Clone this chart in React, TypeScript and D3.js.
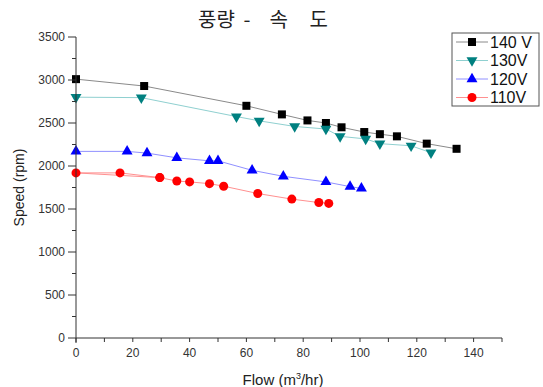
import * as d3 from 'd3'

// series values: [flow m3/hr, speed rpm]
const flow140 = [0, 24, 60, 72.5, 81.5, 88, 93.5, 101.5, 107, 113, 123.5, 134]
const speed140 = [3010, 2930, 2700, 2600, 2530, 2500, 2450, 2395, 2370, 2345, 2260, 2200]

const flow130 = [0, 23, 56.5, 64.5, 77, 88, 93, 102, 107, 118, 125]
const speed130 = [2800, 2795, 2575, 2525, 2460, 2430, 2345, 2315, 2260, 2235, 2155]

const flow120 = [0, 18, 25, 35.5, 47, 50, 62, 73, 88, 96.5, 100.5]
const speed120 = [2170, 2170, 2150, 2095, 2060, 2060, 1950, 1880, 1815, 1760, 1740]

// the 110V line in the source goes back to 0 before continuing
const flow110 = [29.5, 15.5, 0, 29.5, 35.5, 40, 47, 52, 64, 76, 85.5, 89]
const speed110 = [1865, 1920, 1920, 1865, 1825, 1815, 1795, 1765, 1680, 1615, 1575, 1565]

const seriesNames = ['140 V', '130V', '120V', '110V']
const xMajorTicks = [0, 20, 40, 60, 80, 100, 120, 140]
const xMinorTicks = [10, 30, 50, 70, 90, 110, 130, 150]
const yMajorTicks = [0, 500, 1000, 1500, 2000, 2500, 3000, 3500]
const yMinorTicks = [250, 750, 1250, 1750, 2250, 2750, 3250]

type Shape = 'square' | 'down' | 'up' | 'circle'

const series = [
  { name: seriesNames[0], xs: flow140, ys: speed140, line: '#8a8a8a', fill: '#000000', shape: 'square' as Shape },
  { name: seriesNames[1], xs: flow130, ys: speed130, line: '#8fd0d0', fill: '#008080', shape: 'down' as Shape },
  { name: seriesNames[2], xs: flow120, ys: speed120, line: '#9090ff', fill: '#0000ff', shape: 'up' as Shape },
  { name: seriesNames[3], xs: flow110, ys: speed110, line: '#ff9090', fill: '#ff0000', shape: 'circle' as Shape },
]

const W = 543
const H = 387
const margin = { top: 37, right: 41, bottom: 49, left: 76 }
const font = 'Arial, "Liberation Sans", sans-serif'

function Marker({ x, y, shape, fill }: { x: number; y: number; shape: Shape; fill: string }) {
  if (shape === 'square') return <rect x={x - 4} y={y - 4} width={8} height={8} fill={fill} />
  if (shape === 'circle') return <circle cx={x} cy={y} r={4.5} fill={fill} />
  const sym = d3.symbol().type(d3.symbolTriangle).size(52)()
  return <path d={sym || ''} fill={fill} transform={`translate(${x},${y}) rotate(${shape === 'down' ? 180 : 0})`} />
}

export default function App() {
  const x = d3.scaleLinear().domain([0, 150]).range([margin.left, W - margin.right])
  const y = d3.scaleLinear().domain([0, 3500]).range([H - margin.bottom, margin.top])
  const line = d3.line<[number, number]>().x(d => x(d[0])).y(d => y(d[1]))
  const x0 = x(0)
  const y0 = y(0)

  return (
    <svg width={W} height={H} style={{ position: 'absolute', left: 0, top: 0, background: '#fff' }} fontFamily={font}>
      <text y={27} fontSize={20} fontFamily='"Noto Sans CJK KR", sans-serif' fill="#222">
        <tspan x={198}>풍량</tspan>
        <tspan x={239}> -</tspan>
        <tspan x={265}> 속</tspan>
        <tspan x={305}> 도</tspan>
      </text>

      {/* series */}
      {series.map(s => {
        const pts = s.xs.map((v, i) => [v, s.ys[i]] as [number, number])
        return (
          <g key={s.name}>
            <path d={line(pts) || ''} fill="none" stroke={s.line} strokeWidth={1} />
            {pts.map((p, i) => (
              <Marker key={i} x={x(p[0])} y={y(p[1])} shape={s.shape} fill={s.fill} />
            ))}
          </g>
        )
      })}

      {/* y axis */}
      <line x1={x0} x2={x0} y1={y(3500)} y2={y0 + 5} stroke="#333" />
      {yMajorTicks.map(t => (
        <g key={t}>
          <line x1={x0 - 8} x2={x0} y1={y(t)} y2={y(t)} stroke="#333" />
          <text x={x0 - 11} y={y(t)} dy="0.35em" textAnchor="end" fontSize={12} fill="#333">{t}</text>
        </g>
      ))}
      {yMinorTicks.map(t => (
        <line key={t} x1={x0 - 4} x2={x0} y1={y(t)} y2={y(t)} stroke="#333" />
      ))}

      {/* x axis */}
      <line x1={x0} x2={x(150)} y1={y0} y2={y0} stroke="#333" />
      {xMajorTicks.map(t => (
        <g key={t}>
          <line x1={x(t)} x2={x(t)} y1={y0} y2={y0 + 4} stroke="#333" />
          <text x={x(t)} y={y0 + 19} textAnchor="middle" fontSize={12} fill="#333">{t}</text>
        </g>
      ))}
      {xMinorTicks.map(t => (
        <line key={t} x1={x(t)} x2={x(t)} y1={y0} y2={y0 + 4} stroke="#333" />
      ))}

      <text transform={`translate(24,${(y(3500) + y0) / 2}) rotate(-90)`} textAnchor="middle" fontSize={14} fill="#222">
        Speed (rpm)
      </text>
      <text x={(x0 + x(150)) / 2 - 6} y={385} textAnchor="middle" fontSize={15} fill="#222">
        Flow (m<tspan dy={-6} fontSize={9}>3</tspan><tspan dy={6}>/hr)</tspan>
      </text>

      {/* legend */}
      <rect x={452} y={33} width={87} height={73} fill="#fff" stroke="#555" />
      {series.map((s, i) => {
        const ly = 42 + i * 18.5
        return (
          <g key={s.name}>
            <line x1={456} x2={488} y1={ly} y2={ly} stroke={s.line} />
            <Marker x={472} y={ly} shape={s.shape} fill={s.fill} />
            <text x={490} y={ly} dy="0.36em" fontSize={16} fill="#111">{s.name}</text>
          </g>
        )
      })}
    </svg>
  )
}
